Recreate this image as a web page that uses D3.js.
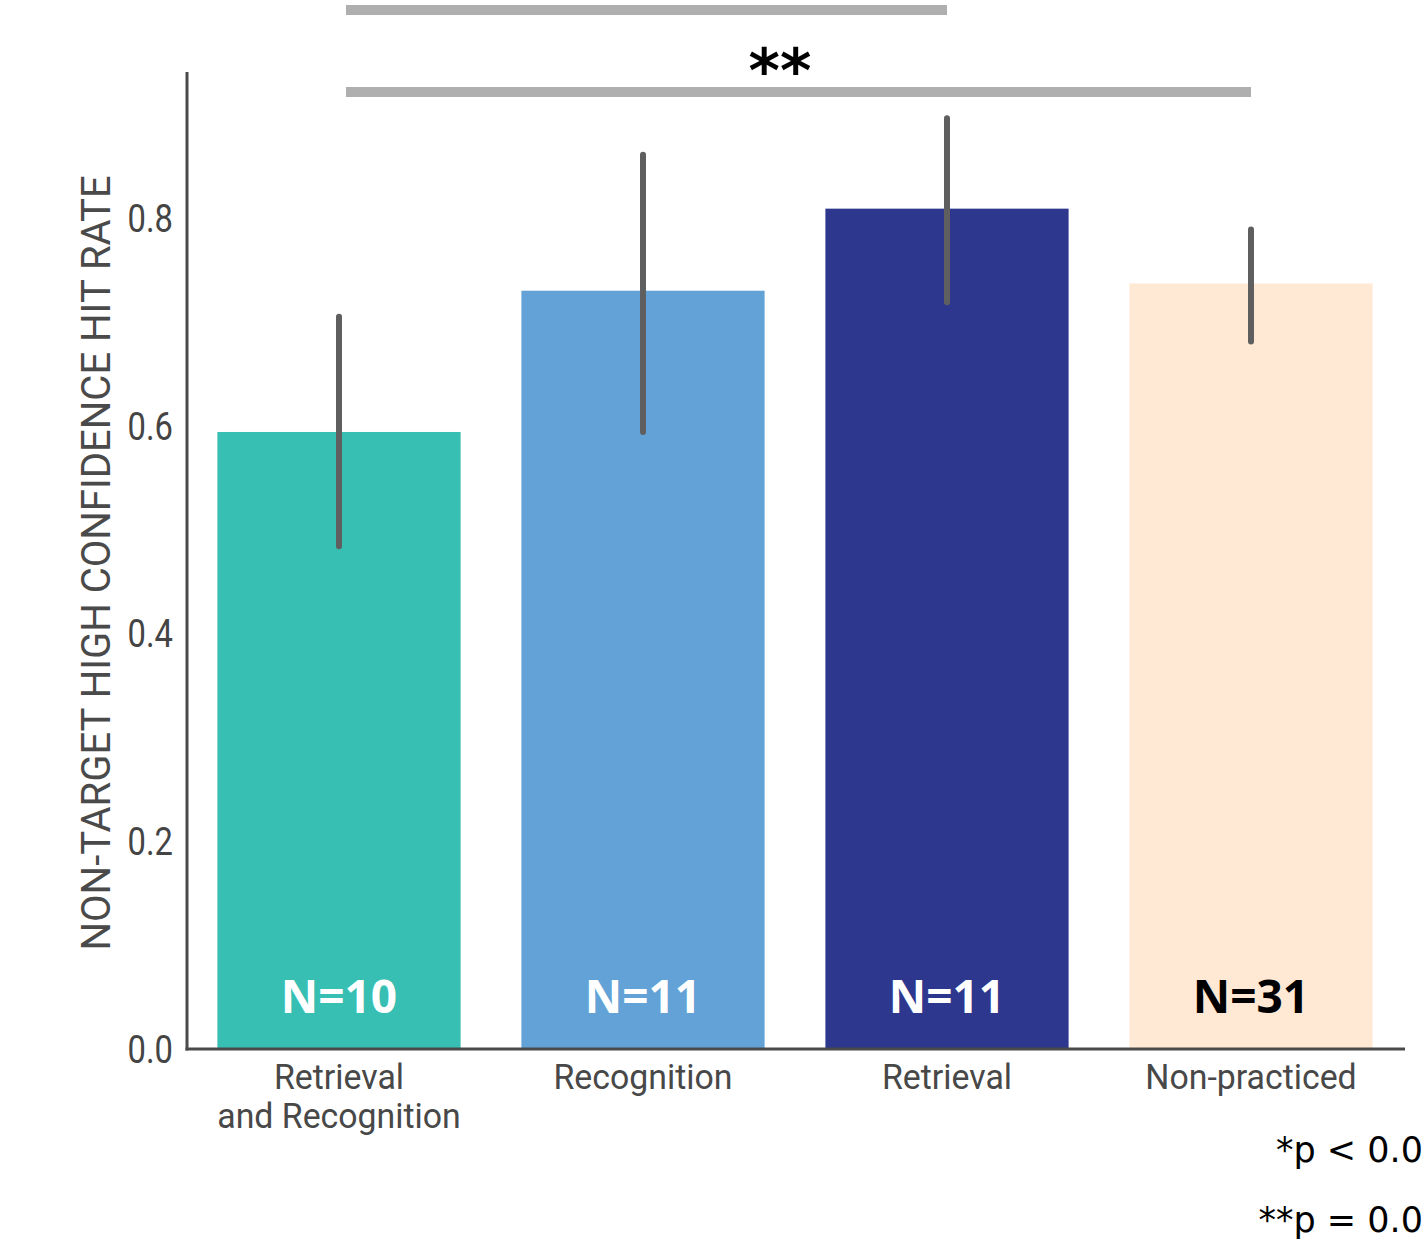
<!DOCTYPE html>
<html><head><meta charset="utf-8">
<script src="https://cdn.jsdelivr.net/npm/d3@7"></script>
<style>body{margin:0;background:#fff}svg{display:block}</style>
</head><body>
<svg id="c" width="1425" height="1240"></svg>
<script>
const categories = ["Retrieval\nand Recognition", "Recognition", "Retrieval", "Non-practiced"];
const values = [0.594, 0.730, 0.809, 0.737];
const ciLow = [0.484, 0.594, 0.719, 0.681];
const ciHigh = [0.705, 0.861, 0.896, 0.789];
const nLabels = ["N=10", "N=11", "N=11", "N=31"];
const colors = ["#36bfb2", "#63a2d6", "#2c378d", "#ffe9d5"];
const nColors = ["#ffffff", "#ffffff", "#ffffff", "#000000"];
const yTicks = [0, 0.2, 0.4, 0.6, 0.8];
const sigPairs = [[0, 2, ""], [0, 3, "**"]];
const sigLevels = [1.0003, 0.9213];
const notes = ["*p < 0.0", "**p = 0.0"];

const svg = d3.select("#c");
const x = d3.scaleBand().domain(d3.range(categories.length)).range([187, 1403]).paddingInner(0.2).paddingOuter(0.1);
const y = d3.scaleLinear().domain([0, 1]).range([1049, 1049 - 1038.75]);

// bars
svg.selectAll("rect.bar").data(values).join("rect")
  .attr("x", (d, i) => x(i)).attr("width", x.bandwidth())
  .attr("y", d => y(d)).attr("height", d => y(0) - y(d))
  .attr("fill", (d, i) => colors[i]);

// error bars
svg.selectAll("line.err").data(values).join("line")
  .attr("x1", (d, i) => x(i) + x.bandwidth() / 2).attr("x2", (d, i) => x(i) + x.bandwidth() / 2)
  .attr("y1", (d, i) => y(ciLow[i])).attr("y2", (d, i) => y(ciHigh[i]))
  .attr("stroke", "#5f5f5f").attr("stroke-width", 6).attr("stroke-linecap", "round");

// N labels
svg.selectAll("text.n").data(nLabels).join("text")
  .attr("x", (d, i) => x(i) + x.bandwidth() / 2).attr("y", 1013)
  .attr("text-anchor", "middle").attr("font-family", "Open Sans").attr("font-weight", 700)
  .attr("font-size", 46).attr("fill", (d, i) => nColors[i]).text(d => d);

// y axis tick labels (narrow sans)
const sx = 0.84;
yTicks.forEach(t => {
  svg.append("text").attr("transform", `translate(173,${y(t)}) scale(${sx},1)`)
    .attr("text-anchor", "end").attr("dy", "0.355em")
    .attr("font-family", "Roboto").attr("font-size", 39).attr("fill", "#444")
    .text(d3.format(".1f")(t));
});
svg.append("line").attr("x1", 187).attr("x2", 187).attr("y1", y(0.9405)).attr("y2", y(0) + 1.5)
  .attr("stroke", "#4a4a4a").attr("stroke-width", 3);
svg.append("line").attr("x1", 185.5).attr("x2", 1405).attr("y1", y(0)).attr("y2", y(0))
  .attr("stroke", "#4a4a4a").attr("stroke-width", 3);

// x labels
categories.forEach((c, i) => {
  const cx = x(i) + x.bandwidth() / 2;
  c.split("\n").forEach((line, j) => {
    svg.append("text").attr("transform", `translate(${cx},${1089 + j * 39}) scale(0.94,1)`)
      .attr("text-anchor", "middle").attr("font-family", "Roboto").attr("font-size", 36).attr("fill", "#484848")
      .text(line);
  });
});

// y label
svg.append("text").attr("transform", "translate(110," + y(0.468) + ") rotate(-90)")
  .attr("text-anchor", "middle").attr("font-family", "Roboto").attr("font-size", 40).attr("fill", "#4a4a4a")
  .text("NON-TARGET HIGH CONFIDENCE HIT RATE");

// significance bars
sigPairs.forEach((p, k) => {
  const x1 = x(p[0]) + x.bandwidth() / 2 + 7, x2 = x(p[1]) + x.bandwidth() / 2;
  svg.append("line").attr("x1", x1).attr("x2", x2).attr("y1", y(sigLevels[k])).attr("y2", y(sigLevels[k]))
    .attr("stroke", "#afafaf").attr("stroke-width", 10);
  if (p[2]) svg.append("text").attr("x", 780).attr("y", y(sigLevels[k]))
    .attr("text-anchor", "middle").attr("font-family", "DejaVu Sans").attr("font-weight", 700)
    .attr("font-size", 60).attr("fill", "#000").text(p[2]);
});

// notes
notes.forEach((n, i) => svg.append("text").attr("x", 1423).attr("y", 1162 + i * 70)
  .attr("text-anchor", "end").attr("font-family", "DejaVu Sans").attr("font-size", 35).attr("fill", "#000").text(n));
</script>
</body></html>
